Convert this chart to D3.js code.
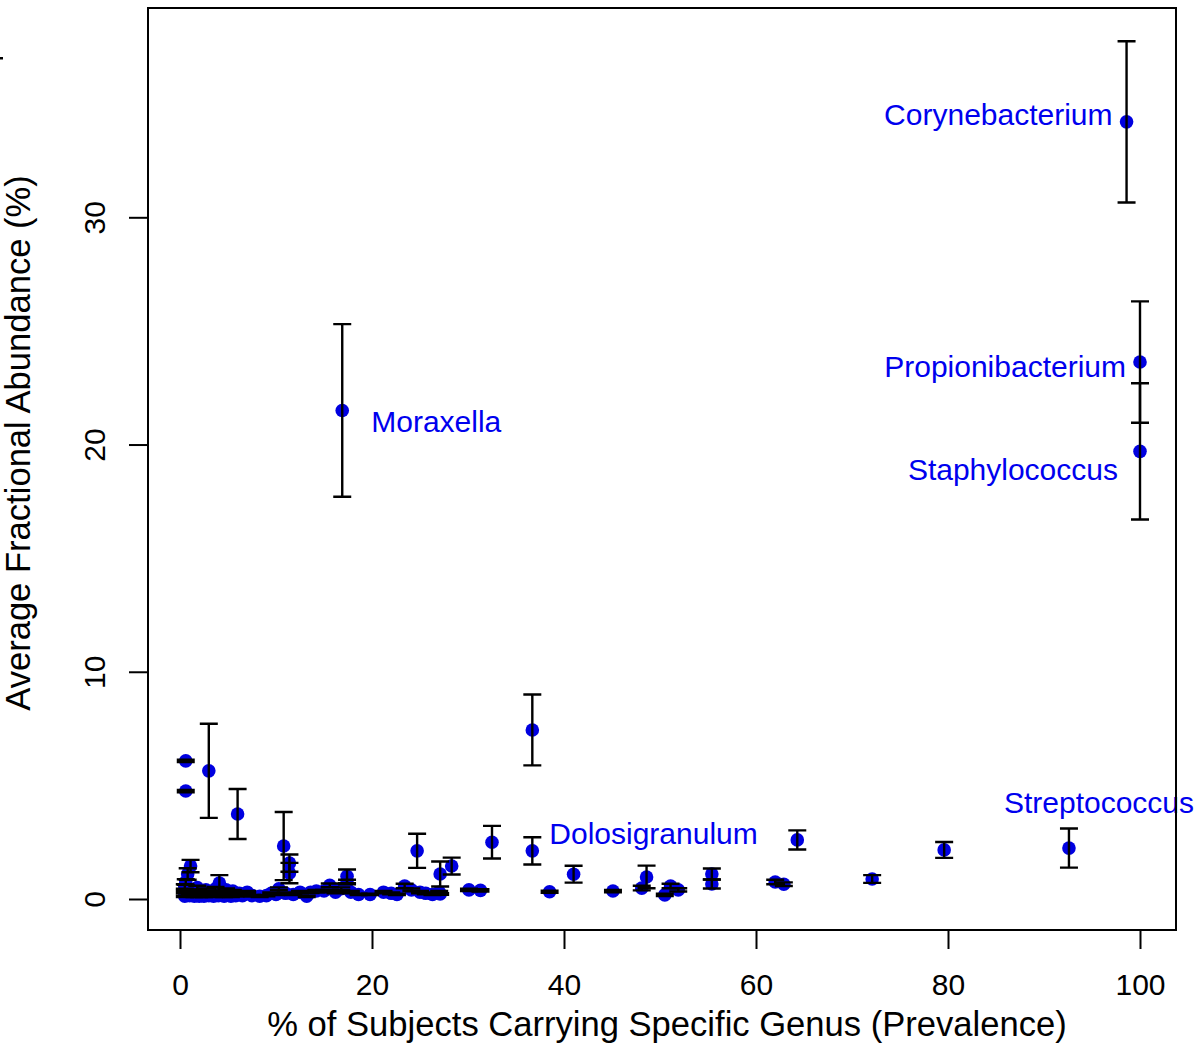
<!DOCTYPE html>
<html><head><meta charset="utf-8">
<script src="https://cdn.jsdelivr.net/npm/d3@7"></script>
<style>body{margin:0;background:#fff}svg text{font-family:"Liberation Sans",Arial,Helvetica,sans-serif}</style>
</head><body><svg id="c" width="1200" height="1046"></svg>
<script>
// Prevalence (% of subjects), mean abundance (%), standard error (%)
const prevalence = [98.6,100,100,16.9,36.7,92.6,79.6,72.1,64.3,62.0,62.9,55.4,55.4,36.7,38.5,41.0,45.1,48.1,48.6,50.5,51.1,51.9,24.7,27.1,28.3,32.5,30.1,31.3,0.6,0.6,3.0,6.0,
 0.5,0.5,0.5,0.6,0.8,1.1,1.0,1.2,1.5,1.6,1.8,2.0,2.2,2.5,2.7,3.0,3.2,3.5,3.7,4.0,4.1,4.3,4.6,4.8,5.0,5.3,5.5,5.8,6.2,6.5,7.0,7.5,8.3,9.0,9.5,10.0,10.3,10.8,11.0,11.4,11.4,11.8,12.5,13.2,13.6,14.2,15.0,15.6,16.2,16.8,17.4,17.4,17.8,18.6,19.8,21.2,22.0,22.6,23.4,24.1,25.0,25.6,26.3,27.0,27.1];
const abundance = [34.2,23.63,19.7,21.5,7.44,2.24,2.16,0.88,2.6,0.75,0.65,1.1,0.66,2.12,0.32,1.09,0.35,0.48,0.97,0.18,0.57,0.4,2.12,1.1,1.45,2.5,0.4,0.38,6.08,4.75,5.64,3.74,
 0.12,0.3,0.55,0.75,1.1,1.45,0.15,0.35,0.12,0.25,0.5,0.12,0.3,0.12,0.4,0.15,0.28,0.12,0.45,0.15,0.7,0.3,0.12,0.4,0.2,0.12,0.35,0.15,0.25,0.15,0.3,0.15,0.12,0.15,0.25,0.2,0.45,2.33,0.25,1.58,1.14,0.2,0.3,0.12,0.3,0.35,0.35,0.6,0.3,0.45,1.0,0.75,0.3,0.2,0.2,0.3,0.25,0.2,0.57,0.4,0.3,0.25,0.2,0.3,0.22];
const stdErr = [3.55,2.67,3.0,3.8,1.56,0.86,0.35,0.17,0.42,0.1,0.08,0.24,0.2,0.6,0.05,0.37,0.05,0.1,0.5,0.05,0.1,0.07,0.75,0.55,0.37,0.72,0.05,0.05,0.05,0.05,2.07,1.1,
 0.03,0.05,0.1,0.12,0.25,0.27,0.03,0.06,0.03,0.05,0.08,0.03,0.05,0.03,0.06,0.03,0.05,0.03,0.08,0.03,0.35,0.05,0.03,0.06,0.04,0.03,0.05,0.03,0.04,0.03,0.05,0.03,0.03,0.03,0.04,0.03,0.06,1.5,0.04,0.38,0.45,0.03,0.05,0.03,0.04,0.05,0.05,0.08,0.05,0.06,0.3,0.1,0.05,0.03,0.03,0.05,0.04,0.03,0.1,0.06,0.05,0.04,0.03,0.05,0.03];
const xTicks = [0,20,40,60,80,100];
const yTicks = [0,10,20,30];
const labelNames = ["Corynebacterium","Propionibacterium","Staphylococcus","Moraxella","Dolosigranulum","Streptococcus"];
const labelIndex = [0,1,2,3,13,5];

const svg = d3.select("#c");
const x = d3.scaleLinear().domain([0,100]).range([180,1140]);
const y = d3.scaleLinear().domain([0,30]).range([899,217.3]);
const L=148,R=1176,T=8,B=930;

const data = prevalence.map((p,i)=>({p,a:abundance[i],se:stdErr[i]}));

// points
svg.append("g").selectAll("circle").data(data).join("circle")
  .attr("cx",d=>x(d.p)).attr("cy",d=>y(d.a)).attr("r",6.8).attr("fill","#0000e0");

// error bars
const eb = svg.append("g").attr("stroke","#000").attr("stroke-width",2.4).attr("fill","none");
data.forEach(d=>{
  const x0=x(d.p), y1=y(d.a+d.se), y2=y(d.a-d.se);
  eb.append("path").attr("d",`M${x0},${y1}V${y2}M${x0-9},${y1}H${x0+9}M${x0-9},${y2}H${x0+9}`);
});

// labels
const labelPos = [[-14,3,"end"],[-14,15,"end"],[-22,29,"end"],[29,22,"start"],[17,-7,"start"],[-65,-35,"start"]];
labelNames.forEach((n,k)=>{
  const d=data[labelIndex[k]], o=labelPos[k];
  svg.append("text").attr("x",x(d.p)+o[0]).attr("y",y(d.a)+o[1]).attr("text-anchor",o[2])
    .attr("font-size",30).attr("fill","#0000ee").text(n);
});

// box
svg.append("rect").attr("x",L).attr("y",T).attr("width",R-L).attr("height",B-T)
  .attr("fill","none").attr("stroke","#000").attr("stroke-width",2);

// x axis
const gx = svg.append("g").attr("transform",`translate(0,${B})`)
  .call(d3.axisBottom(x).tickValues(xTicks).tickSize(19).tickSizeOuter(0).tickPadding(25));
gx.select(".domain").remove();
gx.selectAll("line").attr("stroke","#000").attr("stroke-width",2);
gx.selectAll("text").attr("font-size",30).attr("fill","#000").style("font-family","Liberation Sans, Arial, sans-serif");

// y axis
const gy = svg.append("g").attr("transform",`translate(${L},0)`)
  .call(d3.axisLeft(y).tickValues(yTicks).tickSize(19).tickSizeOuter(0));
gy.select(".domain").remove();
gy.selectAll("line").attr("stroke","#000").attr("stroke-width",2);
gy.selectAll("text").attr("font-size",30).attr("fill","#000").attr("text-anchor","middle")
  .attr("x",null).attr("dy",null).attr("transform","translate(-43,0) rotate(-90)")
  .style("font-family","Liberation Sans, Arial, sans-serif");

// titles
svg.append("text").attr("x",667).attr("y",1036).attr("text-anchor","middle").attr("font-size",34.6)
  .text("% of Subjects Carrying Specific Genus (Prevalence)");
svg.append("text").attr("transform","translate(30,443) rotate(-90)").attr("text-anchor","middle").attr("font-size",34.6)
  .text("Average Fractional Abundance (%)");
// small stray mark at top-left
svg.append("rect").attr("x",0).attr("y",57).attr("width",3).attr("height",2.5).attr("fill","#000");
</script></body></html>
